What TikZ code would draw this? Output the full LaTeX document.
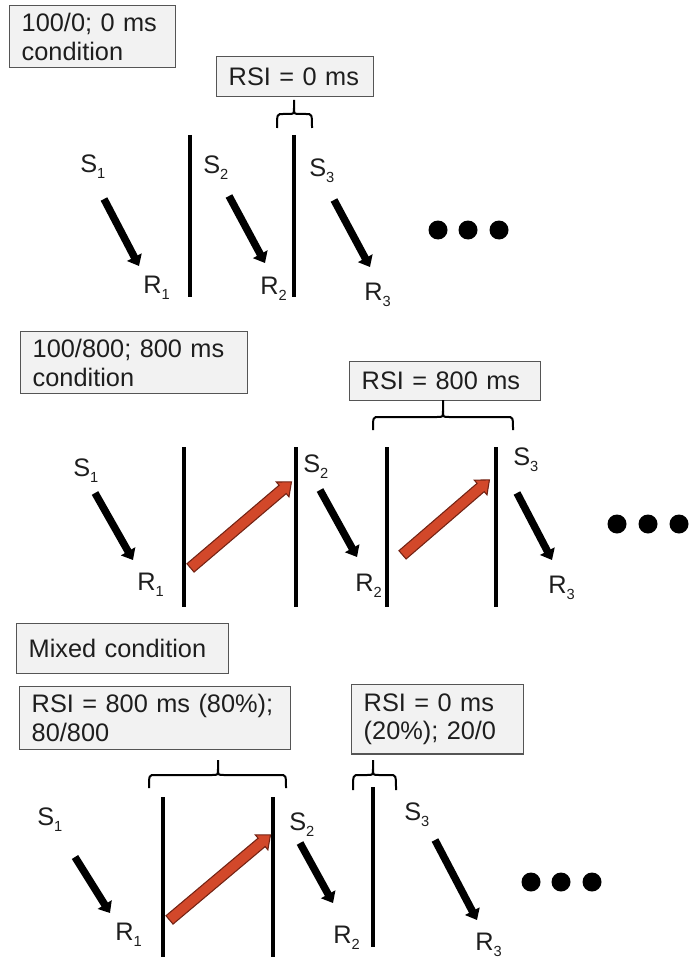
\documentclass[tikz,border=0pt]{standalone}
\usepackage{fontspec}
\setmainfont{Liberation Sans}
\usetikzlibrary{arrows.meta,shapes.arrows,calc}
\definecolor{boxfill}{RGB}{242,242,242}
\definecolor{boxline}{RGB}{85,85,85}
\definecolor{redfill}{RGB}{210,72,42}
\definecolor{redline}{RGB}{115,35,20}
\definecolor{txt}{RGB}{30,30,30}
\newcommand\subnum[1]{\raisebox{-4.5pt}{\fontsize{11}{11}\selectfont #1}}
\newcommand\rsibrace[6]{%
  \draw[bracestyle] (#1,#4) .. controls (#1,#5) .. ({#1+6},#5) -- ({#3-6},#5) .. controls (#3,#5) .. (#3,{#5-6}) -- (#3,#6);
  \draw[bracestyle] (#3,{#5-6}) .. controls (#3,#5) .. ({#3+6},#5) -- ({#2-6},#5) .. controls (#2,#5) .. (#2,#4);}
\begin{document}
\begin{tikzpicture}[x=0.75pt,y=-0.75pt,
  txtbox/.style={draw=boxline, fill=boxfill, line width=1.1pt, anchor=north west,
    inner xsep=9pt, inner ysep=0pt, align=left, text=txt,
    font=\fontsize{19}{21.5}\selectfont},
  lbl/.style={anchor=base west, inner sep=0pt, text=txt, font=\fontsize{19}{21.5}\selectfont},
  bar/.style={line width=3.6pt, black},
  bracestyle/.style={line width=1.5pt, black},
  blkarrow/.style={line width=5.6pt, black, -{Triangle[length=7.5pt,width=12pt]}},
  redarrow/.style={single arrow, draw=redline, fill=redfill, line width=0.8pt,
    inner sep=3.7pt, single arrow head extend=3.2pt, single arrow tip angle=80},
  dot/.style={black}
]
\useasboundingbox (0,0) rectangle (689,963);

% ---------------- Panel 1 ----------------
\node[txtbox, text width=106.5pt, minimum height=46.5pt] (b1) at (9,5) {\mbox{100/0; 0 ms}\\\mbox{condition}};
\node[txtbox, text width=99.75pt, minimum height=30pt] (b2) at (216,56) {\mbox{RSI = 0 ms}};
\rsibrace{277}{312}{294}{128}{114}{100}
\draw[bar] (190,135) -- (190,297);
\draw[bar] (294,135) -- (294,297);
\node[lbl] (p1s1) at (80,172) {S\subnum{1}};
\node[lbl] (p1r1) at (143,293) {R\subnum{1}};
\node[lbl] (p1s2) at (203,174) {S\subnum{2}};
\node[lbl] (p1r2) at (260,294) {R\subnum{2}};
\node[lbl] (p1s3) at (309,176) {S\subnum{3}};
\node[lbl] (p1r3) at (364,300) {R\subnum{3}};
\coordinate (p1a1s) at (104,199); \coordinate (p1a1e) at (139,266);
\coordinate (p1a2s) at (229,196); \coordinate (p1a2e) at (265,263);
\coordinate (p1a3s) at (334,200); \coordinate (p1a3e) at (370,267);
\draw[blkarrow] (p1a1s) -- (p1a1e);
\draw[blkarrow] (p1a2s) -- (p1a2e);
\draw[blkarrow] (p1a3s) -- (p1a3e);
\fill[dot] (438,230) circle (9.5) (468,230) circle (9.5) (499,230) circle (9.5);

% ---------------- Panel 2 ----------------
\node[txtbox, text width=152pt, minimum height=46.5pt] (b3) at (20,331) {\mbox{100/800; 800 ms}\\\mbox{condition}};
\node[txtbox, text width=125pt, minimum height=29pt] (b4) at (349,361) {\mbox{RSI = 800 ms}};
\rsibrace{373}{513}{443}{430}{417}{400}
\draw[bar] (184,447) -- (184,607);
\draw[bar] (296,447) -- (296,607);
\draw[bar] (387,447) -- (387,607);
\draw[bar] (496,447) -- (496,607);
\node[lbl] (p2s1) at (73,476) {S\subnum{1}};
\node[lbl] (p2r1) at (137,590) {R\subnum{1}};
\node[lbl] (p2s2) at (303,472) {S\subnum{2}};
\node[lbl] (p2r2) at (355,591) {R\subnum{2}};
\node[lbl] (p2s3) at (513,465) {S\subnum{3}};
\node[lbl] (p2r3) at (548,593) {R\subnum{3}};
\coordinate (p2a1s) at (95,493); \coordinate (p2a1e) at (133,560);
\coordinate (p2a2s) at (320,490); \coordinate (p2a2e) at (357,557);
\coordinate (p2a3s) at (517,493); \coordinate (p2a3e) at (552,560);
\draw[blkarrow] (p2a1s) -- (p2a1e);
\draw[blkarrow] (p2a2s) -- (p2a2e);
\draw[blkarrow] (p2a3s) -- (p2a3e);
\coordinate (p2r1s) at (188,570); \coordinate (p2r1e) at (289,484);
\coordinate (p2r2s) at (400,557); \coordinate (p2r2e) at (487,482);
\path let \p1=($(p2r1e)-(p2r1s)$), \n1={veclen(\x1,\y1)} in
  (p2r1s) -- (p2r1e) node[redarrow, midway, sloped, minimum height=\n1] (red1) {};
\path let \p1=($(p2r2e)-(p2r2s)$), \n1={veclen(\x1,\y1)} in
  (p2r2s) -- (p2r2e) node[redarrow, midway, sloped, minimum height=\n1] (red2) {};
\fill[dot] (617,524) circle (9.5) (648,524) circle (9.5) (679,524) circle (9.5);

% ---------------- Panel 3 ----------------
\node[txtbox, text width=141pt, minimum height=37.5pt] (b5) at (16,623) {\mbox{Mixed condition}};
\node[txtbox, text width=185pt, minimum height=47pt] (b6) at (19,686) {\mbox{RSI = 800 ms (80\%);}\\\mbox{80/800}};
\node[txtbox, text width=111pt, minimum height=52pt] (b7) at (351,684) {\mbox{RSI = 0 ms}\\\mbox{(20\%); 20/0}};
\rsibrace{149}{286}{218}{788}{775}{760}
\rsibrace{353}{396}{373}{790}{775}{760}
\draw[bar] (163,797) -- (163,957);
\draw[bar] (273,797) -- (273,957);
\draw[bar] (373,787) -- (373,947);
\node[lbl] (p3s1) at (37,825) {S\subnum{1}};
\node[lbl] (p3r1) at (115,940) {R\subnum{1}};
\node[lbl] (p3s2) at (289,830) {S\subnum{2}};
\node[lbl] (p3r2) at (333,943) {R\subnum{2}};
\node[lbl] (p3s3) at (404,820) {S\subnum{3}};
\node[lbl] (p3r3) at (475,950) {R\subnum{3}};
\coordinate (p3a1s) at (75,857); \coordinate (p3a1e) at (110,913);
\coordinate (p3a2s) at (300,843); \coordinate (p3a2e) at (333,903);
\coordinate (p3a3s) at (435,840); \coordinate (p3a3e) at (477,920);
\draw[blkarrow] (p3a1s) -- (p3a1e);
\draw[blkarrow] (p3a2s) -- (p3a2e);
\draw[blkarrow] (p3a3s) -- (p3a3e);
\coordinate (p3r1s) at (167,922); \coordinate (p3r1e) at (268,837);
\path let \p1=($(p3r1e)-(p3r1s)$), \n1={veclen(\x1,\y1)} in
  (p3r1s) -- (p3r1e) node[redarrow, midway, sloped, minimum height=\n1] (red3) {};
\fill[dot] (531,882) circle (9.5) (561,882) circle (9.5) (592,882) circle (9.5);
\end{tikzpicture}
\end{document}
